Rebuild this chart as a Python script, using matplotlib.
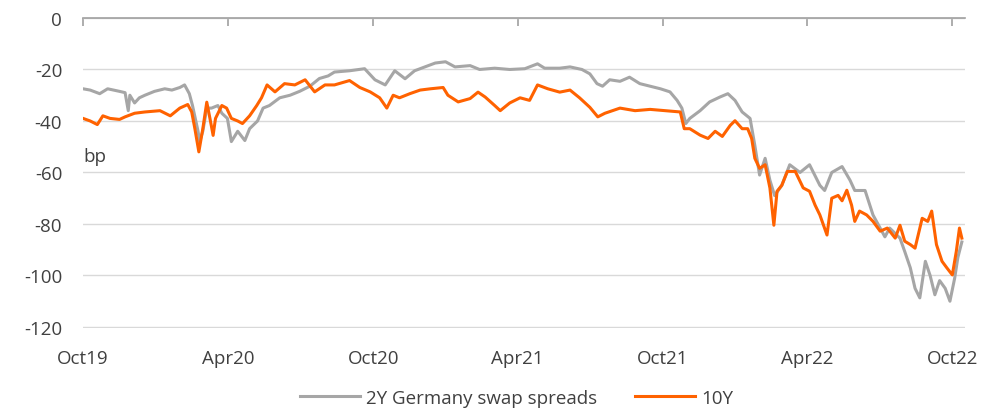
import numpy as np
import pandas as pd
import matplotlib
matplotlib.use("Agg")
import matplotlib.pyplot as plt
import matplotlib.dates as mdates

plt.rcParams['font.family'] = ['Open Sans', 'DejaVu Sans']

# 2Y Germany swap spreads (bp)
gray_dates = [
    "2019-10-01", "2019-10-10", "2019-10-22", "2019-11-01", "2019-11-16", "2019-11-23",
    "2019-11-27", "2019-11-29", "2019-12-05", "2019-12-11", "2019-12-18", "2019-12-30",
    "2020-01-12", "2020-01-21", "2020-01-31", "2020-02-06", "2020-02-12", "2020-02-16",
    "2020-02-23", "2020-02-25", "2020-02-29", "2020-03-05", "2020-03-11", "2020-03-19",
    "2020-03-24", "2020-03-31", "2020-04-05", "2020-04-13", "2020-04-22", "2020-04-28",
    "2020-05-08", "2020-05-15", "2020-05-23", "2020-06-05", "2020-06-18", "2020-06-30",
    "2020-07-13", "2020-07-25", "2020-08-05", "2020-08-13", "2020-09-01", "2020-09-20",
    "2020-10-03", "2020-10-16", "2020-10-28", "2020-11-10", "2020-11-22", "2020-12-05",
    "2020-12-18", "2020-12-31", "2021-01-12", "2021-01-31", "2021-02-12", "2021-03-03",
    "2021-03-22", "2021-04-10", "2021-04-26", "2021-05-05", "2021-05-24", "2021-06-06",
    "2021-06-21", "2021-07-01", "2021-07-10", "2021-07-17", "2021-07-26", "2021-08-08",
    "2021-08-20", "2021-09-02", "2021-09-15", "2021-09-28", "2021-10-10", "2021-10-19",
    "2021-10-25", "2021-10-30", "2021-11-04", "2021-11-17", "2021-11-29", "2021-12-12",
    "2021-12-22", "2021-12-31", "2022-01-09", "2022-01-19", "2022-01-25", "2022-01-31",
    "2022-02-07", "2022-02-13", "2022-02-19", "2022-02-28", "2022-03-10", "2022-03-23",
    "2022-04-04", "2022-04-17", "2022-04-23", "2022-05-02", "2022-05-15", "2022-05-25",
    "2022-05-31", "2022-06-13", "2022-06-23", "2022-07-02", "2022-07-08", "2022-07-14",
    "2022-07-27", "2022-08-02", "2022-08-09", "2022-08-15", "2022-08-21", "2022-08-28",
    "2022-09-03", "2022-09-09", "2022-09-15", "2022-09-22", "2022-09-28", "2022-10-04",
    "2022-10-08", "2022-10-13",
]
gray_vals = [
    -27.5, -28, -29.4, -27.5, -28.5, -29,
    -36, -30, -33, -31, -30, -28.5,
    -27.5, -28, -27, -26, -29.4, -34,
    -44, -48, -44, -35, -35, -34,
    -37, -39, -48, -44, -47.6, -43,
    -40, -35, -34, -31, -30, -28.5,
    -26.5, -23.5, -22.5, -21, -20.5, -19.7,
    -24, -26, -20.5, -23.6, -20.5, -19,
    -17.5, -17, -19, -18.5, -20, -19.5,
    -20, -19.7, -17.8, -19.5, -19.5, -19,
    -20, -21.7, -25.5, -26.5, -24, -24.6,
    -23, -25.5, -26.5, -27.5, -28.7, -32,
    -35, -41, -39, -36, -32.6, -30.7,
    -29.4, -32, -36.5, -39, -49.5, -61,
    -54.5, -63, -69, -65, -57, -60,
    -57, -65, -67, -60, -57.7, -63,
    -67, -67, -76.5, -81.6, -85, -81.6,
    -85.5, -90.7, -97, -105, -108.7, -94.5,
    -100, -107.5, -102, -105, -110, -101,
    -93, -87,
]

# 10Y (bp)
orange_dates = [
    "2019-10-01", "2019-10-10", "2019-10-19", "2019-10-26", "2019-11-04", "2019-11-16",
    "2019-11-23", "2019-12-05", "2019-12-18", "2020-01-06", "2020-01-19", "2020-01-31",
    "2020-02-10", "2020-02-15", "2020-02-19", "2020-02-24", "2020-02-29", "2020-03-05",
    "2020-03-09", "2020-03-13", "2020-03-16", "2020-03-24", "2020-03-30", "2020-04-05",
    "2020-04-13", "2020-04-19", "2020-04-28", "2020-05-07", "2020-05-13", "2020-05-20",
    "2020-05-30", "2020-06-11", "2020-06-24", "2020-07-07", "2020-07-19", "2020-08-01",
    "2020-08-13", "2020-09-01", "2020-09-14", "2020-09-27", "2020-10-09", "2020-10-18",
    "2020-10-26", "2020-11-03", "2020-11-16", "2020-11-29", "2020-12-12", "2020-12-28",
    "2021-01-03", "2021-01-16", "2021-01-31", "2021-02-10", "2021-02-19", "2021-03-03",
    "2021-03-10", "2021-03-22", "2021-04-04", "2021-04-16", "2021-04-26", "2021-05-09",
    "2021-05-24", "2021-06-06", "2021-06-18", "2021-07-01", "2021-07-11", "2021-07-20",
    "2021-08-08", "2021-08-27", "2021-09-15", "2021-10-04", "2021-10-23", "2021-10-28",
    "2021-11-04", "2021-11-17", "2021-11-27", "2021-12-06", "2021-12-15", "2021-12-25",
    "2021-12-31", "2022-01-09", "2022-01-16", "2022-01-21", "2022-01-25", "2022-01-31",
    "2022-02-07", "2022-02-13", "2022-02-18", "2022-02-22", "2022-02-28", "2022-03-07",
    "2022-03-17", "2022-03-27", "2022-04-04", "2022-04-11", "2022-04-17", "2022-04-26",
    "2022-05-02", "2022-05-10", "2022-05-15", "2022-05-21", "2022-05-27", "2022-05-31",
    "2022-06-06", "2022-06-15", "2022-06-23", "2022-07-02", "2022-07-11", "2022-07-21",
    "2022-07-27", "2022-08-02", "2022-08-09", "2022-08-15", "2022-08-24", "2022-08-31",
    "2022-09-05", "2022-09-11", "2022-09-18", "2022-09-24", "2022-10-01", "2022-10-06",
    "2022-10-10", "2022-10-13",
]
orange_vals = [
    -39, -40, -41.4, -38, -39, -39.4,
    -38.4, -37, -36.5, -36, -38, -35,
    -33.6, -36.5, -43, -52, -43, -32.7,
    -39, -45.6, -39, -34, -35, -39,
    -40, -41, -38, -34, -31, -26,
    -28.7, -25.5, -26, -24, -28.7, -26,
    -26, -24.3, -27, -28.7, -31, -35,
    -30, -31, -29.4, -28, -27.5, -27,
    -30, -32.6, -31.3, -28.8, -30.7, -34,
    -36, -33, -31, -32, -26, -27.5,
    -28.8, -28, -31, -34.7, -38.4, -37,
    -35, -36, -35.5, -36, -36.5, -43,
    -43, -45.5, -46.8, -44, -46, -41.7,
    -39.9, -43, -43, -46.8, -54.5, -58.4,
    -57, -66, -80.5, -67.3, -65, -59.6,
    -59.6, -66, -67.3, -72.7, -76.5, -84.3,
    -70, -68.9, -71, -66.9, -72.7, -79,
    -75, -76.5, -79, -82.8, -81.6, -85.5,
    -80.5, -86.7, -88, -89.4, -77.8, -79,
    -75, -88, -94.5, -97, -99.8, -90.7,
    -81.6, -85.5,
]

tick_dates = ["2019-10-01", "2020-04-01", "2020-10-01", "2021-04-01",
              "2021-10-01", "2022-04-01", "2022-10-01"]
tick_labels = ["Oct19", "Apr20", "Oct20", "Apr21", "Oct21", "Apr22", "Oct22"]
y_ticks = [0, -20, -40, -60, -80, -100, -120]

text_col = "#404040"
fs = 13.5

fig = plt.figure(figsize=(9.84, 4.10), dpi=100)
ax = fig.add_axes([0.0844, 0.1976, 0.8963, 0.7561])

ax.plot(pd.to_datetime(gray_dates), gray_vals, color="#A6A6A6", lw=2.2,
        label="2Y Germany swap spreads", zorder=3)
ax.plot(pd.to_datetime(orange_dates), orange_vals, color="#FF6200", lw=2.2,
        label="10Y", zorder=4)

ax.set_xlim(pd.Timestamp("2019-10-01"), pd.Timestamp("2022-10-17"))
ax.set_ylim(-120.4, 0)

ax.set_xticks(pd.to_datetime(tick_dates))
ax.set_xticklabels(tick_labels)
ax.set_yticks(y_ticks)
ax.set_yticklabels([str(v) for v in y_ticks])

for s in ["left", "right", "bottom"]:
    ax.spines[s].set_visible(False)
ax.spines["top"].set_color("#A0A0A0")
ax.spines["top"].set_linewidth(1.2)

ax.tick_params(axis="x", top=True, bottom=False, labeltop=False, labelbottom=True,
               direction="in", length=6, width=1.2, color="#A0A0A0",
               labelsize=fs, labelcolor=text_col, pad=15)
ax.tick_params(axis="y", left=False, length=0, labelsize=fs,
               labelcolor=text_col, pad=15)

ax.grid(axis="y", color="#D9D9D9", lw=1.0, zorder=0)
ax.set_axisbelow(True)

ax.text(pd.Timestamp("2019-10-01"), -53.5, "bp", ha="left", va="center",
        fontsize=fs, color=text_col)

fig.legend(loc="center", bbox_to_anchor=(0.525, 0.028), ncol=2, frameon=False,
           fontsize=fs, handlelength=3.2, handletextpad=0.35, columnspacing=2.0,
           labelcolor=text_col)

fig.savefig("out.png", dpi=100)
